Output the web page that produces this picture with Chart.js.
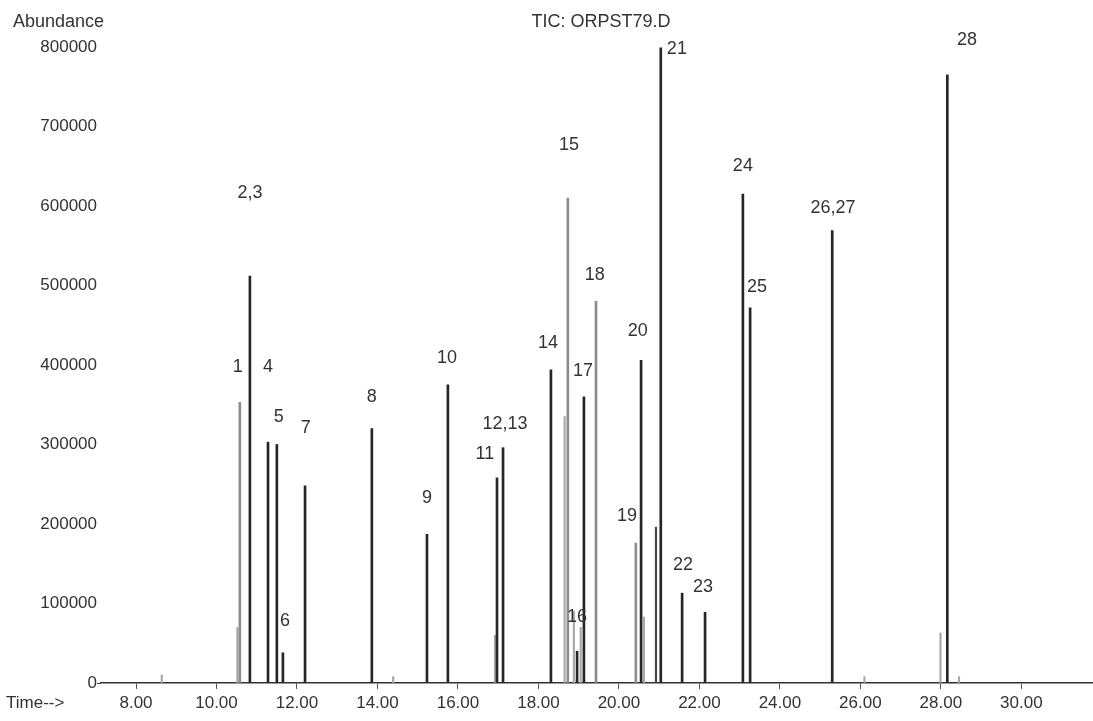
<!DOCTYPE html>
<html><head><meta charset="utf-8">
<script src="https://cdn.jsdelivr.net/npm/chart.js@4.4.1/dist/chart.umd.min.js"></script>
<style>html,body{margin:0;padding:0;background:#fff}#wrap{position:relative;width:1093px;height:721px}</style>
</head><body><div id="wrap"><canvas id="c"></canvas></div>
<script>
// ---- data (retention time in minutes, abundance) ----
const peakTimes = [10.58, 10.83, 11.28, 11.50, 11.65, 12.20, 13.86, 15.23, 15.75, 16.97, 17.12, 18.31, 18.73, 18.96, 19.13, 19.43, 20.42, 20.55, 21.04, 21.57, 22.14, 23.08, 23.26, 25.30, 28.16];
const peakAbund = [353000, 512000, 303000, 300000, 38000, 248000, 320000, 187000, 375000, 258000, 296000, 394000, 610000, 40000, 360000, 480000, 176000, 406000, 799000, 113000, 89000, 615000, 472000, 569000, 765000];
const minorTimes = [8.64, 10.52, 14.39, 16.92, 18.65, 18.88, 19.05, 20.62, 20.92, 26.10, 27.99, 28.45];
const minorAbund = [10000, 70000, 8000, 60000, 335000, 90000, 70000, 83000, 196000, 8000, 63000, 8000];
const peakLabels = ['1', '2,3', '4', '5', '6', '7', '8', '9', '10', '11', '12,13', '14', '15', '16', '17', '18', '19', '20', '21', '22', '23', '24', '25', '26,27', '28'];
const labelTimes = [10.53, 10.83, 11.28, 11.55, 11.70, 12.22, 13.86, 15.23, 15.73, 16.67, 17.17, 18.24, 18.76, 18.96, 19.11, 19.40, 20.20, 20.47, 21.44, 21.59, 22.09, 23.08, 23.43, 25.32, 28.65];
const labelAbund = [397000, 616000, 397000, 335000, 78000, 321000, 360000, 233000, 409000, 288000, 326000, 428000, 677000, 83000, 392000, 513000, 210000, 443000, 798000, 148000, 121000, 650000, 498000, 598000, 809000];
const xTicks = [8, 10, 12, 14, 16, 18, 20, 22, 24, 26, 28, 30];
const yTicks = [0, 100000, 200000, 300000, 400000, 500000, 600000, 700000, 800000];
const chartTitle = 'TIC: ORPST79.D';
const yTitle = 'Abundance';
const xTitle = 'Time-->';

// ---- styles ----
const FAMILY = '"Liberation Sans", Arial, Helvetica, sans-serif';
const TXT = '#333333';
const lightPeaks = [0, 12, 15, 16]; // main peaks drawn in lighter grey
const darkMinor = [8];              // minor lines drawn dark

const textPlugin = {
  id: 'texts',
  afterDatasetsDraw(chart) {
    const c = chart.ctx, xs = chart.scales.x, ys = chart.scales.y;
    c.save();
    c.fillStyle = TXT;
    c.textBaseline = 'middle';
    c.font = '18px ' + FAMILY;
    c.textAlign = 'center';
    peakLabels.forEach((lab, i) => {
      c.fillText(lab, xs.getPixelForValue(labelTimes[i]), ys.getPixelForValue(labelAbund[i]));
    });
    c.fillText(chartTitle, 601, 22);
    c.textAlign = 'left';
    c.fillText(yTitle, 13, 22);
    c.font = '17px ' + FAMILY;
    c.fillText(xTitle, 6, 703);
    c.restore();
  }
};

new Chart(document.getElementById('c'), {
  type: 'bar',
  data: {
    datasets: [
      {
        data: minorTimes.map((t, i) => ({x: t, y: minorAbund[i]})),
        backgroundColor: ctx => darkMinor.includes(ctx.dataIndex) ? '#444' : '#a8a8a8',
        barThickness: 1.5,
        grouped: false,
        order: 2
      },
      {
        data: peakTimes.map((t, i) => ({x: t, y: peakAbund[i]})),
        backgroundColor: ctx => lightPeaks.includes(ctx.dataIndex) ? '#8c8c8c' : '#262626',
        barThickness: 2,
        grouped: false,
        order: 1
      }
    ]
  },
  options: {
    responsive: true,
    maintainAspectRatio: false,
    animation: false,
    layout: {padding: {top: 47, left: 0, right: 0, bottom: 0}},
    plugins: {legend: {display: false}, tooltip: {enabled: false}, title: {display: false}},
    scales: {
      x: {
        type: 'linear', min: 7.13, max: 31.78, offset: false,
        grid: {display: true, drawOnChartArea: false, drawTicks: true, tickLength: 6, tickColor: '#555', offset: false},
        border: {display: true, color: '#333', width: 1.5},
        afterBuildTicks: s => { s.ticks = xTicks.map(v => ({value: v})); },
        afterFit: s => { s.height = 38; },
        ticks: {font: {family: FAMILY, size: 17}, color: TXT, padding: 4, maxRotation: 0, autoSkip: false,
          callback: v => Number(v).toFixed(2)}
      },
      y: {
        type: 'linear', min: 0, max: 800000,
        afterBuildTicks: s => { s.ticks = yTicks.map(v => ({value: v})); },
        afterFit: s => { s.width = 101; },
        grid: {display: true, drawOnChartArea: false, drawTicks: true, tickLength: 4,
          tickColor: c => (c.tick && c.tick.value === 0) ? '#444' : 'rgba(0,0,0,0)'},
        border: {display: false},
        ticks: {font: {family: FAMILY, size: 17}, color: TXT, padding: 0, autoSkip: false,
          callback: v => String(v)}
      }
    }
  },
  plugins: [textPlugin]
});
</script>
</body></html>
